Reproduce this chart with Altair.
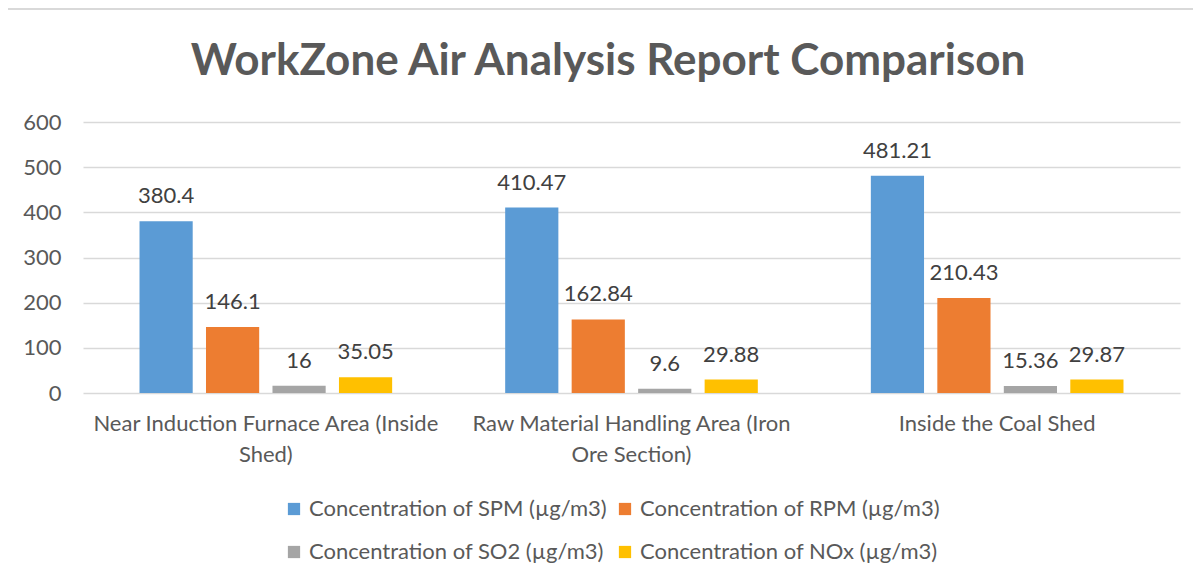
import altair as alt
import pandas as pd

title_text = "WorkZone Air Analysis Report Comparison"
categories = [
    "Near Induction Furnace Area (Inside Shed)",
    "Raw Material Handling Area (Iron Ore Section)",
    "Inside the Coal Shed",
]
category_lines = [
    ["Near Induction Furnace Area (Inside", "Shed)"],
    ["Raw Material Handling Area (Iron", "Ore Section)"],
    ["Inside the Coal Shed"],
]
series = [
    "Concentration of SPM (µg/m3)",
    "Concentration of RPM (µg/m3)",
    "Concentration of SO2 (µg/m3)",
    "Concentration of NOx (µg/m3)",
]
spm = [380.4, 410.47, 481.21]
rpm = [146.1, 162.84, 210.43]
so2 = [16, 9.6, 15.36]
nox = [35.05, 29.88, 29.87]
labels_txt = [
    ["380.4", "410.47", "481.21"],
    ["146.1", "162.84", "210.43"],
    ["16", "9.6", "15.36"],
    ["35.05", "29.88", "29.87"],
]
colors = ["#5B9BD5", "#ED7D31", "#A5A5A5", "#FFC000"]

rows = []
for si, (s, vals) in enumerate(zip(series, [spm, rpm, so2, nox])):
    for ci, c in enumerate(categories):
        rows.append({"area": c, "series": s, "value": vals[ci], "label": labels_txt[si][ci]})
df = pd.DataFrame(rows)
title_df = pd.DataFrame({"t": [title_text]})

# Build label expression for wrapped category labels
expr = "datum.value"
for c, lines in reversed(list(zip(categories, category_lines))):
    arr = "[" + ",".join("'" + l + "'" for l in lines) + "]"
    expr = f"datum.value == '{c}' ? {arr} : ({expr})"

FONT = "Lato"
FS = 22

x_enc = alt.X(
    "area:N",
    sort=categories,
    title=None,
    scale=alt.Scale(paddingInner=0, paddingOuter=0),
    axis=alt.Axis(
        labelExpr=expr,
        labelAngle=0,
        labelFontSize=FS,
        labelFont=FONT,
        labelColor="#595959",
        labelLineHeight=31,
        labelPadding=20,
        labelLimit=0,
        ticks=False,
        domain=False,
        grid=False,
    ),
)
xoff = alt.XOffset("series:N", sort=series, scale=alt.Scale(paddingInner=0.2, paddingOuter=0.85))
y_enc = alt.Y(
    "value:Q",
    title=None,
    scale=alt.Scale(domain=[0, 600], nice=False),
    axis=alt.Axis(
        values=[0, 100, 200, 300, 400, 500, 600],
        labelFontSize=FS,
        labelFont=FONT,
        labelColor="#595959",
        labelPadding=22,
        ticks=False,
        domain=False,
        gridColor="#d9d9d9",
        gridWidth=1.3,
    ),
)
color_enc = alt.Color(
    "series:N",
    sort=series,
    scale=alt.Scale(domain=series, range=colors),
    legend=alt.Legend(
        title=None,
        orient="none",
        direction="horizontal",
        legendX=200,
        legendY=376,
        columns=2,
        columnPadding=6,
        rowPadding=21,
        symbolType="square",
        symbolSize=150,
        symbolStrokeWidth=0,
        labelOffset=4,
        labelFontSize=FS,
        labelFont=FONT,
        labelColor="#595959",
        labelLimit=0,
    ),
)

bars = alt.Chart(df).mark_bar().encode(x=x_enc, xOffset=xoff, y=y_enc, color=color_enc)
text = alt.Chart(df).mark_text(
    baseline="alphabetic", dy=-18, fontSize=FS, font=FONT, color="#404040"
).encode(x=alt.X("area:N", sort=categories), xOffset=xoff, y="value:Q", text="label:N")

title_mark = alt.Chart(title_df).mark_text(
    baseline="alphabetic", align="center", fontSize=44, font=FONT, fontWeight="bold", color="#595959"
).encode(x=alt.value(525), y=alt.value(-47), text="t:N")

border_top = alt.Chart(title_df).mark_rule(color="#d9d9d9", strokeWidth=2, clip=False).encode(
    x=alt.value(-77), x2=alt.value(1120), y=alt.value(-113)
)
border_left = alt.Chart(title_df).mark_rule(color="#d9d9d9", strokeWidth=2, clip=False).encode(
    x=alt.value(-77), y=alt.value(-113), y2=alt.value(460)
)

chart = (
    alt.layer(bars, text, title_mark, border_top, border_left)
    .properties(
        width=1097,
        height=271,
        autosize=alt.AutoSizeParams(type="none"),
        padding={"left": 75, "top": 114, "right": 13, "bottom": 178},
        background="white",
    )
    .configure_view(stroke=None)
)

chart.save("out.html", embed_options={"renderer": "svg", "actions": False})
